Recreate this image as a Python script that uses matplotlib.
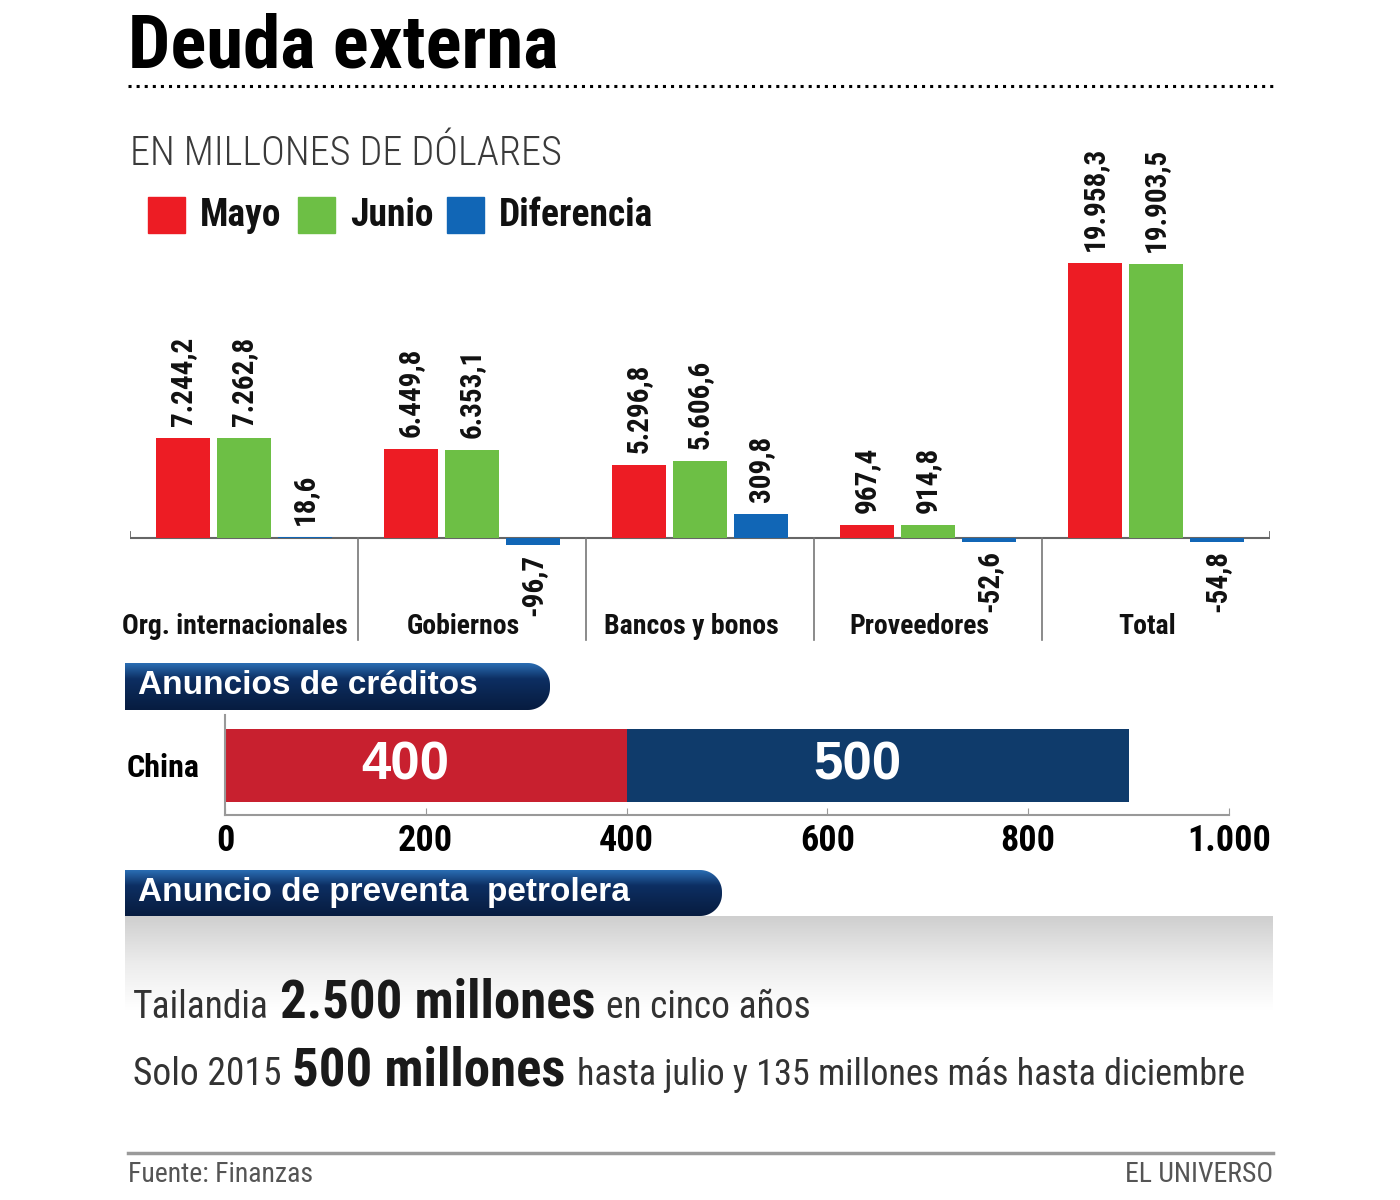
import matplotlib
matplotlib.use('Agg')
import matplotlib.pyplot as plt
import numpy as np
from matplotlib.patches import Polygon, Rectangle
from matplotlib.colors import LinearSegmentedColormap
from matplotlib import font_manager as fm

# data
categorias = ['Org. internacionales', 'Gobiernos', 'Bancos y bonos', 'Proveedores', 'Total']
mayo = [7244.2, 6449.8, 5296.8, 967.4, 19958.3]
junio = [7262.8, 6353.1, 5606.6, 914.8, 19903.5]
diferencia = [18.6, -96.7, 309.8, -52.6, -54.8]
series_names = ['Mayo', 'Junio', 'Diferencia']

credito_pais = ['China']
credito_vals = [400, 500]
credito_ticks = [0, 200, 400, 600, 800, 1000]
credito_ticklabels = ['0', '200', '400', '600', '800', '1.000']

RED = '#ed1c24'
GREEN = '#6dbf45'
BLUE = '#1166b6'
RED2 = '#c8202f'
NAVY = '#0f3b6b'

avail = {f.name for f in fm.fontManager.ttflist}


def pick(*names):
    for n in names:
        if n in avail:
            return n
    return 'DejaVu Sans'


NARROW = pick('Liberation Sans Narrow', 'Roboto Condensed', 'DejaVu Sans')
WIDE = pick('Liberation Sans', 'Arial', 'DejaVu Sans')
plt.rcParams['font.family'] = NARROW


def fmt(v):
    s = f"{v:,.1f}"
    return s.replace(',', 'X').replace('.', ',').replace('X', '.')


fig = plt.figure(figsize=(14, 12), dpi=100)
fig.patch.set_facecolor('white')

# background layer in pixel coords
bg = fig.add_axes([0, 0, 1, 1], zorder=0)
bg.set_xlim(0, 1400)
bg.set_ylim(1200, 0)
bg.axis('off')

bg.text(128, 68, 'Deuda externa', fontsize=54, fontweight='bold', va='baseline', color='black')
bg.plot([128, 1275], [86, 86], color='black', lw=2.2, linestyle=':')
bg.text(130, 165, 'EN MILLONES DE DÓLARES', fontsize=29, fontweight='light',
        va='baseline', color='#3a3a3a')

# legend
for xs, name, col in zip([148, 298, 447], series_names, [RED, GREEN, BLUE]):
    bg.add_patch(Rectangle((xs, 197), 37, 36, color=col))
    bg.text(xs + 52, 226, name, fontsize=27, fontweight='bold', va='baseline', color='#111111')

navy_cmap = LinearSegmentedColormap.from_list('navy', ['#2a6db3', '#0d2f63', '#0a2550', '#071c40'])
gray_cmap = LinearSegmentedColormap.from_list('gray', ['#cfcfcf', '#ececec', '#ffffff'])


def banner(x0, y0, w, h, r, text):
    pts = [(x0, y0)]
    cx = x0 + w - r
    t = np.linspace(np.pi / 2, 0, 20)
    pts += list(zip(cx + r * np.cos(t), y0 + r - r * np.sin(t)))
    t2 = np.linspace(0, np.pi / 2, 20)
    pts += list(zip(cx + r * np.cos(t2), y0 + h - r + r * np.sin(t2)))
    pts.append((x0, y0 + h))
    poly = Polygon(pts, closed=True, facecolor='none', edgecolor='none')
    bg.add_patch(poly)
    grad = np.linspace(0, 1, 100).reshape(-1, 1)
    im = bg.imshow(grad, cmap=navy_cmap, extent=(x0, x0 + w, y0 + h, y0),
                   aspect='auto', interpolation='bicubic', zorder=1)
    im.set_clip_path(poly)
    bg.text(x0 + 13, y0 + h / 2 - 1, text, color='white', fontsize=24, fontweight='bold',
            family=WIDE, va='center', zorder=2)


banner(125, 663, 425, 47, 22, 'Anuncios de créditos')

# gray band
grad = np.linspace(0, 1, 100).reshape(-1, 1)
bg.imshow(grad, cmap=gray_cmap, extent=(125, 1273, 1010, 916), aspect='auto',
          interpolation='bicubic', zorder=0.5)
banner(125, 870, 597, 46, 22, 'Anuncio de preventa  petrolera')

# text runs
renderer = fig.canvas.get_renderer()


def runs(x, y, parts):
    for s, size, weight in parts:
        t = bg.text(x, y, s, fontsize=size, fontweight=weight, va='baseline',
                    color='#1a1a1a' if weight == 'bold' else '#333333', zorder=3)
        bb = t.get_window_extent(renderer=renderer)
        x += bb.width + 11


runs(133, 1018, [('Tailandia', 27, 'normal'), ('2.500 millones', 38, 'bold'),
                 ('en cinco años', 27, 'normal')])
runs(133, 1085, [('Solo 2015', 27, 'normal'), ('500 millones', 38, 'bold'),
                 ('hasta julio y 135 millones más hasta diciembre', 26, 'normal')])

bg.plot([128, 1273], [1153, 1153], color='#9a9a9a', lw=2.5)
bg.text(128, 1182, 'Fuente: Finanzas', fontsize=20, va='baseline', color='#555555')
bg.text(1273, 1182, 'EL UNIVERSO', fontsize=20, va='baseline', ha='right', color='#555555')

bg.set_xlim(0, 1400)
bg.set_ylim(1200, 0)

# main grouped bars
ax = fig.add_axes([130 / 1400, 1 - 645 / 1200, 1140 / 1400, 495 / 1200], zorder=2)
ax.patch.set_visible(False)
ppu = 275 / 19958.3
ax.set_ylim(-107 / ppu, 388 / ppu)
ax.set_xlim(0, 5)
ax2 = ax.twinx()
ax2.patch.set_visible(False)
dpu = 24 / 309.8
ax2.set_ylim(-107 / dpu, 388 / dpu)
ax.axis('off')
ax2.axis('off')

x = np.arange(len(categorias)) + 0.5
w = 0.241
off = 0.2675
ax.bar(x - off, mayo, w, color=RED)
ax.bar(x, junio, w, color=GREEN)
ax2.bar(x + off, diferencia, w, color=BLUE)

lab = dict(rotation=90, ha='center', fontsize=21, fontweight='bold', color='#111111')
for i in range(len(categorias)):
    ax.text(x[i] - off, mayo[i] + 12 / ppu, fmt(mayo[i]), va='bottom', **lab)
    ax.text(x[i], junio[i] + 12 / ppu, fmt(junio[i]), va='bottom', **lab)
    d = diferencia[i]
    if d >= 0:
        ax2.text(x[i] + off, d + 12 / dpu, fmt(d), va='bottom', **lab)
    else:
        ax2.text(x[i] + off, d - 8 / dpu, fmt(d), va='top', **lab)
    ax.text(x[i] - 0.04, -96 / ppu, categorias[i], ha='center', va='baseline',
            fontsize=20, fontweight='bold', color='#111111')

ax.plot([0, 5], [0, 0], color='#666666', lw=1.5, solid_capstyle='butt', zorder=0.5)
for s in [0, 5]:
    ax.plot([s, s], [0, 6 / ppu], color='#666666', lw=1.3)
for s in range(1, len(categorias)):
    ax.plot([s, s], [0, -102 / ppu], color='#777777', lw=1.2)

# credits bar
hb = fig.add_axes([225 / 1400, 1 - 815 / 1200, 1004 / 1400, 100 / 1200], zorder=2)
hb.patch.set_visible(False)
left = 0
for v, col in zip(credito_vals, [RED2, NAVY]):
    hb.barh(0, v, left=left, height=0.73, color=col)
    hb.text(left + v / 2 - 20, 0, str(v), ha='center', va='center', color='white',
            fontsize=38, fontweight='bold', family=WIDE)
    left += v
hb.set_xlim(0, 1000)
hb.set_ylim(-0.5, 0.5)
for sp in ['top', 'right']:
    hb.spines[sp].set_visible(False)
for sp in ['left', 'bottom']:
    hb.spines[sp].set_color('#999999')
    hb.spines[sp].set_linewidth(1.5)
hb.set_xticks(credito_ticks)
hb.set_xticklabels(credito_ticklabels, fontsize=26, fontweight='bold')
hb.tick_params(axis='x', direction='in', length=5, color='#999999', pad=6)
hb.set_yticks([0])
hb.set_yticklabels(credito_pais, fontsize=23, fontweight='bold')
hb.tick_params(axis='y', length=0, pad=18)

fig.savefig('out.png', dpi=100, facecolor='white')
